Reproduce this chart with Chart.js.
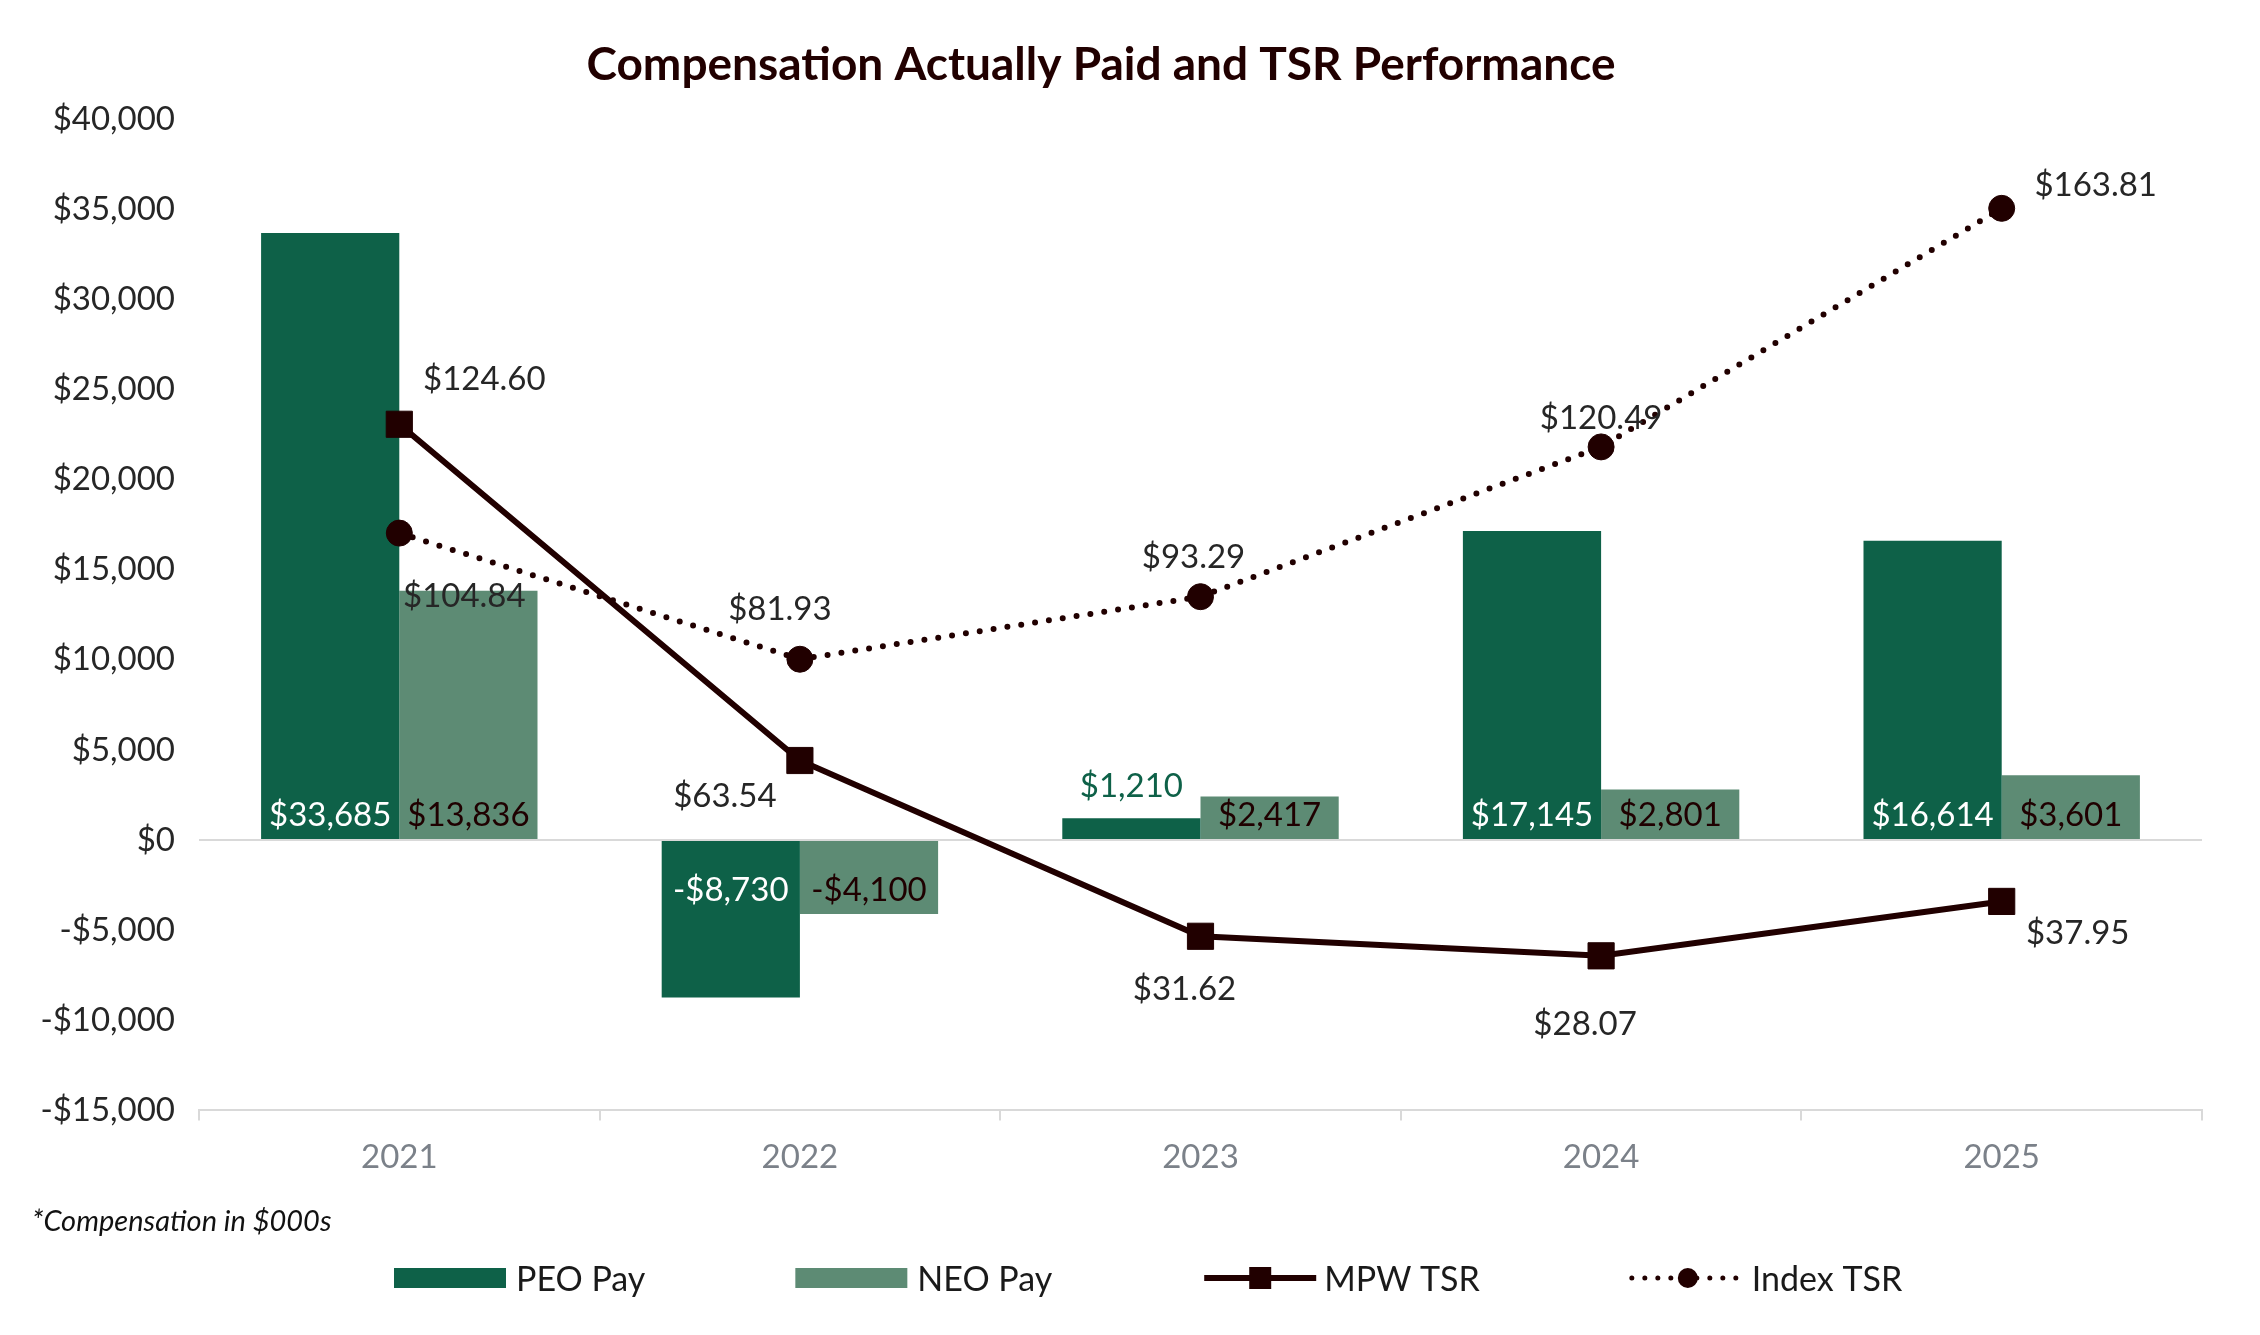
<!DOCTYPE html>
<html>
<head>
<meta charset="utf-8">
<title>Compensation Actually Paid and TSR Performance</title>
<script src="https://cdn.jsdelivr.net/npm/chart.js@4.4.1/dist/chart.umd.min.js"></script>
<style>
  html, body { margin: 0; padding: 0; background: #fff; }
</style>
</head>
<body>
<canvas id="tsrChart" width="2260" height="1335"></canvas>
<script>
const years = ['2021', '2022', '2023', '2024', '2025'];
const peoPay = [33685, -8730, 1210, 17145, 16614];
const neoPay = [13836, -4100, 2417, 2801, 3601];
const mpwTsr = [124.60, 63.54, 31.62, 28.07, 37.95];
const indexTsr = [104.84, 81.93, 93.29, 120.49, 163.81];
const payTicks = { min: -15000, max: 40000, step: 5000 };
const tsrRange = { min: 0, max: 180 };

// where each TSR label sits relative to its point (px), same order as years
const mpwLabelShift = [[85, -45], [-75, 36], [-16, 53], [-16, 69], [76, 32]];
const indexLabelShift = [[65, 63], [-20, -50], [-7, -39], [0, -29], [94, -23]];

const FONT = 'Lato';
const darkGreen = '#0e6148';
const lightGreen = '#5d8b74';
const lineColor = '#210000';

function money(v, dec) {
  const s = Math.abs(v).toLocaleString('en-US', { minimumFractionDigits: dec, maximumFractionDigits: dec });
  return (v < 0 ? '-$' : '$') + s;
}

// data labels, drawn on top of bars and lines
const valueLabels = {
  id: 'valueLabels',
  afterDatasetsDraw(chart) {
    const ctx = chart.ctx;
    ctx.save();
    ctx.font = '33px ' + FONT;
    ctx.textAlign = 'center';
    ctx.textBaseline = 'middle';
    chart.data.datasets.forEach((ds, i) => {
      const meta = chart.getDatasetMeta(i);
      meta.data.forEach((el, j) => {
        const v = ds.data[j];
        let x = el.x, y, color;
        if (ds.type === 'bar') {
          const h = Math.abs(el.base - el.y);
          if (h < 30) {
            y = el.y - 32;            // too small, put it above the bar
            color = darkGreen;
          } else {
            y = v < 0 ? el.base + 49 : el.base - 24;
            color = i === 0 ? '#ffffff' : '#1f0000';
          }
          ctx.fillStyle = color;
          ctx.fillText(money(v, 0), x, y);
        } else {
          const shift = i === 2 ? mpwLabelShift[j] : indexLabelShift[j];
          ctx.fillStyle = '#262626';
          ctx.fillText(money(v, 2), x + shift[0], el.y + shift[1]);
        }
      });
    });
    ctx.restore();
  }
};

// legend + footnote under the axis
const bottomLegend = {
  id: 'bottomLegend',
  afterDraw(chart) {
    const ctx = chart.ctx;
    ctx.save();
    ctx.fillStyle = '#111';
    ctx.font = 'italic 29px ' + FONT;
    ctx.textBaseline = 'middle';
    ctx.textAlign = 'left';
    ctx.fillText('*Compensation in $000s', 32, chart.height - 113);

    const cy = chart.height - 57;
    let x = 394;
    ctx.font = '34px ' + FONT;
    chart.data.datasets.forEach(ds => {
      const sw = 116;
      if (ds.type === 'bar') {
        ctx.fillStyle = ds.backgroundColor;
        ctx.fillRect(x, cy - 10, sw - 4, 20);
      } else {
        ctx.strokeStyle = ds.borderColor;
        ctx.fillStyle = ds.borderColor;
        ctx.lineWidth = ds.borderDash ? 5 : 6;
        ctx.lineCap = ds.borderDash ? 'round' : 'butt';
        ctx.setLineDash(ds.borderDash ? [0, 13] : []);
        ctx.beginPath();
        ctx.moveTo(x + 2, cy);
        ctx.lineTo(x + sw - 2, cy);
        ctx.stroke();
        ctx.setLineDash([]);
        ctx.beginPath();
        if (ds.pointStyle === 'rect') {
          ctx.rect(x + sw / 2 - 11, cy - 11, 22, 22);
        } else {
          ctx.arc(x + sw / 2, cy, 10, 0, Math.PI * 2);
        }
        ctx.fill();
      }
      ctx.fillStyle = '#1a1a1a';
      ctx.fillText(ds.label, x + sw + 6, cy + 2);
      x += sw + 6 + ctx.measureText(ds.label).width + 150;
    });
    ctx.restore();
  }
};

const ctx = document.getElementById('tsrChart').getContext('2d');
const tsrChart = new Chart(ctx, {
  data: {
    labels: years,
    datasets: [{
      type: 'bar',
      label: 'PEO Pay',
      data: peoPay,
      backgroundColor: darkGreen,
      yAxisID: 'y',
      categoryPercentage: 0.69,
      barPercentage: 1.0,
      order: 2
    }, {
      type: 'bar',
      label: 'NEO Pay',
      data: neoPay,
      backgroundColor: lightGreen,
      yAxisID: 'y',
      categoryPercentage: 0.69,
      barPercentage: 1.0,
      order: 2
    }, {
      type: 'line',
      label: 'MPW TSR',
      data: mpwTsr,
      yAxisID: 'y1',
      borderColor: lineColor,
      backgroundColor: lineColor,
      borderWidth: 6,
      pointStyle: 'rect',
      pointRadius: 18.5,
      pointHoverRadius: 18.5,
      pointBorderWidth: 1,
      tension: 0,
      order: 0
    }, {
      type: 'line',
      label: 'Index TSR',
      data: indexTsr,
      yAxisID: 'y1',
      borderColor: lineColor,
      backgroundColor: lineColor,
      borderWidth: 6,
      borderDash: [0, 14],
      borderCapStyle: 'round',
      pointStyle: 'circle',
      pointRadius: 13,
      pointHoverRadius: 13,
      pointBorderWidth: 1,
      tension: 0,
      order: 1
    }]
  },
  options: {
    responsive: false,
    animation: false,
    layout: { padding: { left: 0, right: 58, top: 0, bottom: 141 } },
    plugins: {
      legend: { display: false },
      tooltip: { enabled: false },
      title: {
        display: true,
        text: 'Compensation Actually Paid and TSR Performance',
        color: '#210000',
        font: { family: FONT, size: 46, weight: 'bold' },
        padding: { top: 38, bottom: 26 }
      }
    },
    scales: {
      x: {
        grid: {
          drawOnChartArea: false,
          drawTicks: true,
          tickLength: 10,
          color: '#d9d9d9',
          lineWidth: 2
        },
        border: { display: true, color: '#d9d9d9', width: 2 },
        ticks: {
          color: '#7b8189',
          font: { family: FONT, size: 33 },
          padding: 17
        }
      },
      y: {
        min: payTicks.min,
        max: payTicks.max,
        afterFit(scale) { scale.width = 199; },
        border: { display: false },
        grid: {
          drawTicks: false,
          lineWidth: 2,
          color: (c) => (c.tick && c.tick.value === 0 ? '#d9d9d9' : 'rgba(0,0,0,0)')
        },
        ticks: {
          stepSize: payTicks.step,
          padding: 24,
          color: '#262626',
          font: { family: FONT, size: 33 },
          callback: (v) => money(v, 0)
        }
      },
      y1: {
        display: false,
        min: tsrRange.min,
        max: tsrRange.max
      }
    }
  },
  plugins: [valueLabels, bottomLegend]
});
</script>
</body>
</html>
